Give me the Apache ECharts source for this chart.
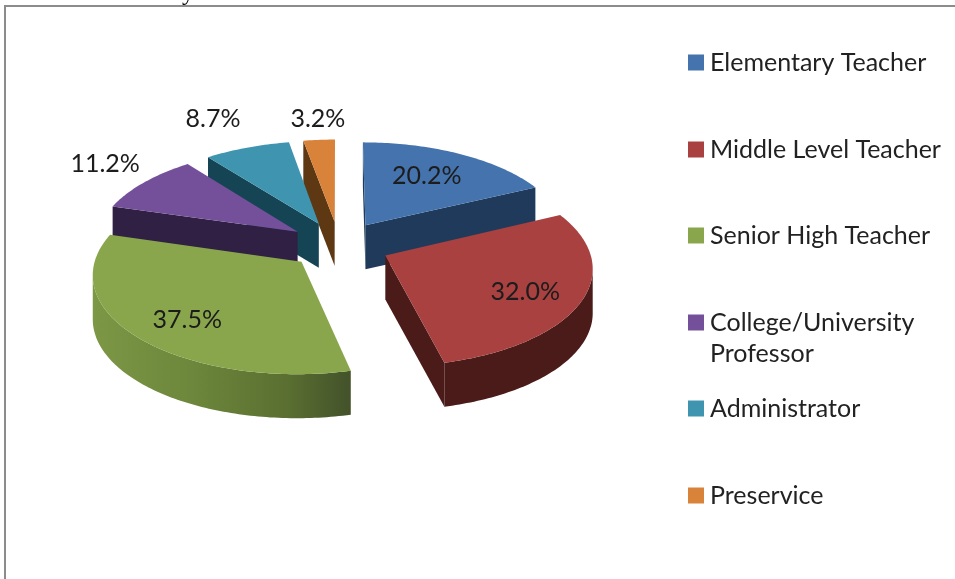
<!DOCTYPE html>
<html>
<head>
<meta charset="utf-8">
<style>
  html, body { margin: 0; padding: 0; background: #fff; }
  #main { width: 955px; height: 579px; }
</style>
</head>
<body>
<div id="main"></div>
<script src="https://cdn.jsdelivr.net/npm/echarts@6/dist/echarts.min.js"></script>
<script>
// slice names and printed percentages (they add up to 112.8, the slices are their shares)
var categories = ['Elementary Teacher', 'Middle Level Teacher', 'Senior High Teacher', 'College/University Professor', 'Administrator', 'Preservice'];
var percents = [20.2, 32.0, 37.5, 11.2, 8.7, 3.2];

var topColors = ['#4573ad', '#a8413f', '#8aa64c', '#75509a', '#3f95b0', '#d9823a'];
var wallColors = ['#1f3a5a', '#4b1b19', '#5f7534', '#2f2044', '#154554', '#5e3813'];
var drawOrder = [3, 5, 4, 2, 1, 0]; // z per slice, nearer slices paint later
var labelRadius = [0.91, 0.97, 0.98, 1.53, 1.76, 1.56]; // label distance from pie centre
var labelNudge = [[-3, -1], [0, 5], [4, 5], [1, -6], [-2, 5], [3, 1]];
var legendTops = [47, 134, 220, 276, 393, 480];

// 3d pie projection
var CX = 339, CY = 245, RX = 203, RZ = 96, K = 0.11, DEPTH = 44, EXPLODE = 0.25;
var FONT = 'Lato';
var FONT_SIZE = 25;

var total = percents.reduce(function (a, b) { return a + b; }, 0);

function project(x, z, drop) {
  var w = 1 + K * z;
  return [CX + RX * x / w, CY - RZ * z / w + drop];
}

function sliceAngles(i) {
  var start = 0;
  for (var n = 0; n < i; n++) start += percents[n] / total * Math.PI * 2;
  return [start, start + percents[i] / total * Math.PI * 2];
}

function greenRim() {
  return {
    type: 'linear', x: 0, y: 0, x2: 1, y2: 0,
    colorStops: [
      { offset: 0, color: '#7c9745' },
      { offset: 0.4, color: '#6c863b' },
      { offset: 0.75, color: '#5a6f31' },
      { offset: 1, color: '#43522a' }
    ]
  };
}

function renderSlice(i) {
  return function () {
    var ang = sliceAngles(i);
    var mid = (ang[0] + ang[1]) / 2;
    var ox = EXPLODE * Math.sin(mid), oz = EXPLODE * Math.cos(mid);
    var steps = Math.ceil((ang[1] - ang[0]) / (Math.PI / 180));

    var arc3d = [];
    for (var s = 0; s <= steps; s++) {
      var t = ang[0] + (ang[1] - ang[0]) * s / steps;
      arc3d.push([ox + Math.sin(t), oz + Math.cos(t)]);
    }
    var ring = [[ox, oz]].concat(arc3d, [[ox, oz]]);
    var children = [];

    // walls: only the edges running right to left face the viewer
    var run = [];
    function flush() {
      if (run.length > 1) {
        var upper = run.map(function (p) { return project(p[0], p[1], 0); });
        var lower = run.map(function (p) { return project(p[0], p[1], DEPTH); }).reverse();
        var fill = (i === 2) ? greenRim() : wallColors[i];
        children.push({ type: 'polygon', shape: { points: upper.concat(lower) }, style: { fill: fill } });
      }
      run = [];
    }
    for (var e = 0; e < ring.length - 1; e++) {
      var a = project(ring[e][0], ring[e][1], 0);
      var b = project(ring[e + 1][0], ring[e + 1][1], 0);
      if (b[0] < a[0]) {
        if (!run.length) run.push(ring[e]);
        run.push(ring[e + 1]);
        // corner between rim and radial wall starts a new polygon
        if (e === 0 || e === ring.length - 3) flush();
      } else {
        flush();
      }
    }
    flush();

    // top face
    children.push({
      type: 'polygon',
      shape: { points: ring.slice(0, -1).map(function (p) { return project(p[0], p[1], 0); }) },
      style: { fill: topColors[i] }
    });

    // percent label
    var lp = project(labelRadius[i] * Math.sin(mid), labelRadius[i] * Math.cos(mid), 0);
    children.push({
      type: 'text',
      z2: 10,
      style: {
        x: lp[0] + labelNudge[i][0], y: lp[1] + labelNudge[i][1],
        text: percents[i].toFixed(1) + '%',
        font: FONT_SIZE + 'px ' + FONT,
        fill: '#1c1c1c',
        align: 'center',
        verticalAlign: 'middle'
      }
    });
    return { type: 'group', children: children };
  };
}

var myChart = echarts.init(document.getElementById('main'), null, { renderer: 'canvas' });

myChart.setOption({
  animation: false,
  backgroundColor: '#fff',
  tooltip: { show: false },
  legend: categories.map(function (name, i) {
    return {
      data: [name],
      orient: 'vertical',
      left: 688,
      top: legendTops[i],
      padding: 0,
      icon: 'rect',
      itemWidth: 16,
      itemHeight: 16,
      itemGap: 0,
      selectedMode: false,
      formatter: function (n) {
        return n === 'College/University Professor' ? '\nCollege/University\nProfessor' : n;
      },
      textStyle: {
        color: '#222',
        fontFamily: FONT,
        fontSize: FONT_SIZE,
        lineHeight: 31,
        padding: [0, 0, 0, 1]
      }
    };
  }),
  graphic: [
    { type: 'line', shape: { x1: 5, y1: 6, x2: 955, y2: 6 }, style: { stroke: '#8c8c8c', lineWidth: 2 } },
    { type: 'line', shape: { x1: 5, y1: 5, x2: 5, y2: 579 }, style: { stroke: '#8c8c8c', lineWidth: 2 } },
    { type: 'text', left: 182, top: -18, style: { text: 'y', font: '24px "Liberation Serif"', fill: '#000' } }
  ],
  series: categories.map(function (name, i) {
    return {
      type: 'custom',
      name: name,
      coordinateSystem: 'none',
      z: drawOrder[i] + 2,
      silent: true,
      itemStyle: { color: topColors[i] },
      renderItem: renderSlice(i),
      data: [percents[i]]
    };
  })
});

window.addEventListener('resize', function () {
  myChart.resize();
});
</script>
</body>
</html>
